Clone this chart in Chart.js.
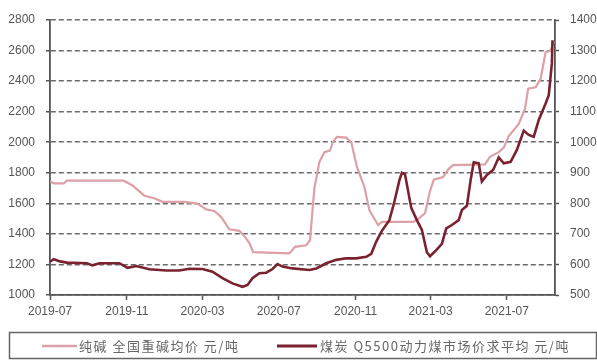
<!DOCTYPE html>
<html>
<head>
<meta charset="utf-8">
<script src="https://cdn.jsdelivr.net/npm/chart.js@4/dist/chart.umd.min.js"></script>
<style>
  html, body { margin: 0; padding: 0; background: #ffffff; }
  #wrap { width: 597px; height: 360px; }
</style>
</head>
<body>
<div id="wrap"><canvas id="c" width="597" height="360"></canvas></div>
<script>
// 纯碱 全国重碱均价 (元/吨), left axis
const sodaDates = [
  '2019-07-01','2019-07-07','2019-07-23','2019-07-28','2019-10-27','2019-11-10','2019-11-22','2019-11-29',
  '2019-12-16','2019-12-28','2020-02-01','2020-02-22','2020-03-07','2020-03-20','2020-03-31','2020-04-13',
  '2020-04-29','2020-05-07','2020-05-15','2020-05-21','2020-07-18','2020-07-27','2020-08-14','2020-08-20',
  '2020-08-27','2020-09-04','2020-09-12','2020-09-21','2020-09-26','2020-10-02','2020-10-17','2020-10-25',
  '2020-11-03','2020-11-15','2020-11-23','2020-12-07','2020-12-13','2021-02-01','2021-02-10','2021-02-20',
  '2021-02-28','2021-03-06','2021-03-21','2021-03-30','2021-04-06','2021-05-27','2021-06-04','2021-06-18',
  '2021-06-26','2021-07-04','2021-07-20','2021-07-30','2021-08-04','2021-08-16','2021-08-24','2021-09-01',
  '2021-09-09','2021-09-14'
];
const sodaValues = [
  1745, 1730, 1730, 1748, 1748, 1717, 1675, 1650,
  1632, 1610, 1610, 1598, 1560, 1550, 1510, 1430,
  1420, 1385, 1340, 1280, 1272, 1315, 1325, 1360,
  1700, 1870, 1935, 1945, 2005, 2035, 2030, 2000,
  1840, 1707, 1555, 1457, 1478, 1478, 1500, 1535,
  1680, 1755, 1772, 1826, 1850, 1855, 1905, 1935,
  1965, 2040, 2120, 2220, 2350, 2360, 2415, 2590,
  2600, 2660
];

// 煤炭 Q5500 动力煤市场价 平均 (元/吨), right axis
const coalDates = [
  '2019-07-01','2019-07-07','2019-07-17','2019-07-28','2019-08-29','2019-09-07','2019-09-18','2019-10-20',
  '2019-11-02','2019-11-16','2019-12-07','2020-01-03','2020-01-24','2020-02-09','2020-03-01','2020-03-17',
  '2020-04-02','2020-04-18','2020-05-04','2020-05-12','2020-05-20','2020-05-31','2020-06-11','2020-06-21',
  '2020-06-29','2020-07-07','2020-07-23','2020-08-19','2020-08-30','2020-09-15','2020-10-01','2020-10-17',
  '2020-11-02','2020-11-18','2020-11-26','2020-12-04','2020-12-13','2020-12-25','2021-01-02','2021-01-10',
  '2021-01-14','2021-01-19','2021-01-29','2021-02-07','2021-02-15','2021-02-23','2021-02-28','2021-03-10',
  '2021-03-19','2021-03-26','2021-04-04','2021-04-15','2021-04-20','2021-04-28','2021-05-04','2021-05-09',
  '2021-05-17','2021-05-22','2021-05-30','2021-06-09','2021-06-18','2021-06-26','2021-07-07','2021-07-17',
  '2021-07-28','2021-08-05','2021-08-13','2021-08-21','2021-09-01','2021-09-06','2021-09-11','2021-09-12'
];
const coalValues = [
  609, 617, 610, 606, 604, 597, 604, 604,
  589, 595, 584, 580, 580, 586, 585, 576,
  555, 538, 527, 533, 555, 571, 573, 585,
  601, 593, 587, 582, 587, 604, 615, 620,
  620, 625, 635, 675, 710, 745, 805, 875,
  900, 895, 785, 745, 713, 640, 627, 647,
  667, 718, 729, 745, 778, 792, 876, 934,
  931, 871, 893, 909, 950, 931, 936, 975,
  1038, 1024, 1018, 1073, 1127, 1154, 1258, 1334
];

// x-axis tick labels
const xTickLabels = ['2019-07','2019-11','2020-03','2020-07','2020-11','2021-03','2021-07'];
const leftTicks = [1000, 1200, 1400, 1600, 1800, 2000, 2200, 2400, 2600, 2800];
const rightTicks = [500, 600, 700, 800, 900, 1000, 1100, 1200, 1300, 1400];

const seriesNames = ['纯碱 全国重碱均价 元/吨', '煤炭 Q5500动力煤市场价求平均 元/吨'];

const ORIGIN = Date.UTC(2019, 6, 1);
function dayIndex(s) {
  const [y, m, d] = s.split('-').map(Number);
  return (Date.UTC(y, m - 1, d) - ORIGIN) / 86400000;
}
const toPoints = (dates, vals) => dates.map((d, i) => ({ x: dayIndex(d), y: vals[i] }));
const xTickValues = xTickLabels.map(l => dayIndex(l + '-01'));
const xMax = dayIndex('2021-09-16');

const PINK = '#dca0a6';
const MAROON = '#7a2230';
const AXIS = '#555555';
const GRID = '#6a6a6a';
const TXT = '#555555';

// bordered legend strip under the x axis
const legendBox = {
  id: 'legendBox',
  afterDraw(chart) {
    const ctx = chart.ctx;
    ctx.save();
    ctx.strokeStyle = '#666666';
    ctx.lineWidth = 1.5;
    ctx.strokeRect(9.5, 332.5, 587, 26);
    const y = 346;
    const items = [
      { color: PINK, x0: 42, x1: 77, w: 2.5, tx: 79 },
      { color: MAROON, x0: 277, x1: 317, w: 3, tx: 320 }
    ];
    ctx.font = '13px "Noto Sans CJK SC", sans-serif';
    ctx.textBaseline = 'middle';
    ctx.fillStyle = '#666666';
    if ('letterSpacing' in ctx) ctx.letterSpacing = '1.5px';
    items.forEach((it, i) => {
      ctx.beginPath();
      ctx.strokeStyle = it.color;
      ctx.lineWidth = it.w;
      ctx.moveTo(it.x0, y);
      ctx.lineTo(it.x1, y);
      ctx.stroke();
      ctx.fillText(seriesNames[i], it.tx, y);
    });
    ctx.restore();
  }
};

const tickFont = { family: '"Liberation Sans", Arial, sans-serif', size: 12 };
const plain = v => String(v);

new Chart(document.getElementById('c'), {
  type: 'line',
  data: {
    datasets: [
      {
        label: seriesNames[0],
        data: toPoints(sodaDates, sodaValues),
        yAxisID: 'y',
        borderColor: PINK,
        borderWidth: 2.2,
        pointRadius: 0,
        tension: 0,
        order: 2
      },
      {
        label: seriesNames[1],
        data: toPoints(coalDates, coalValues),
        yAxisID: 'y1',
        borderColor: MAROON,
        borderWidth: 2.6,
        pointRadius: 0,
        tension: 0,
        order: 1
      }
    ]
  },
  options: {
    responsive: false,
    devicePixelRatio: 1,
    animation: false,
    layout: { padding: { top: 20, left: 0, right: 0, bottom: 0 } },
    plugins: { legend: { display: false }, tooltip: { enabled: false } },
    scales: {
      x: {
        type: 'linear',
        min: 0,
        max: xMax,
        afterBuildTicks: s => { s.ticks = xTickValues.map(v => ({ value: v })); },
        afterFit: s => { s.height = 65; },
        ticks: {
          autoSkip: false,
          maxRotation: 0,
          padding: 4,
          color: TXT,
          font: tickFont,
          callback: v => xTickLabels[xTickValues.indexOf(v)]
        },
        grid: { drawOnChartArea: false, drawTicks: true, tickLength: 5, tickColor: AXIS, tickWidth: 1.5 },
        border: { display: true, color: AXIS, width: 1.8 }
      },
      y: {
        position: 'left',
        min: 1000,
        max: 2800,
        afterBuildTicks: s => { s.ticks = leftTicks.map(v => ({ value: v })); },
        afterFit: s => { s.width = 50; },
        ticks: { padding: 11, color: TXT, font: tickFont, callback: plain },
        grid: {
          color: GRID,
          lineWidth: 1.5,
          drawTicks: true,
          tickLength: 4,
          tickColor: AXIS,
          tickWidth: 1.5
        },
        border: { display: true, color: AXIS, width: 1.8, dash: [5, 3] }
      },
      y1: {
        position: 'right',
        min: 500,
        max: 1400,
        afterBuildTicks: s => { s.ticks = rightTicks.map(v => ({ value: v })); },
        afterFit: s => { s.width = 42; },
        ticks: { padding: 11, color: TXT, font: tickFont, callback: plain },
        grid: { drawOnChartArea: false, drawTicks: true, tickLength: 4, tickColor: AXIS, tickWidth: 1.5 },
        border: { display: true, color: AXIS, width: 1.8 }
      }
    }
  },
  plugins: [legendBox]
});
</script>
</body>
</html>
